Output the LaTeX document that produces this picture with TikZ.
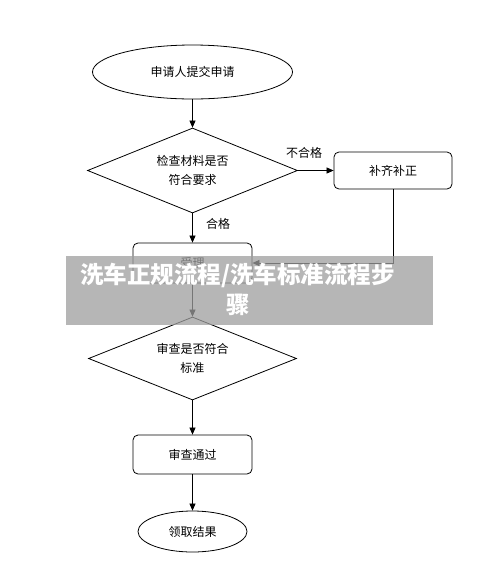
\documentclass[tikz,border=0pt]{standalone}
\usepackage{fontspec}
\setmainfont{Noto Sans CJK SC}
\usetikzlibrary{shapes.geometric,arrows.meta}
\begin{document}
\begin{tikzpicture}[x=1pt,y=-1pt,
  lbl/.style={font=\fontsize{12}{19}\selectfont, inner sep=0pt},
  proc/.style={lbl, draw, line width=0.8pt, rounded corners=5pt, minimum width=119pt, minimum height=39pt},
  term/.style={lbl, draw, line width=0.8pt, ellipse},
  dec/.style={lbl, draw, line width=0.8pt, diamond, aspect=2.47, align=center},
  conn/.style={line width=0.7pt, -{Triangle[length=7pt,width=6pt]}},
  banner/.style={fill=black!38, opacity=0.75},
  bantext/.style={text=white, inner sep=0pt, font=\fontsize{23.5}{26}\bfseries\selectfont}
]
\useasboundingbox (0,0) rectangle (500,582);
\fill[white] (0,0) rectangle (500,582);

\node[term, minimum width=200pt, minimum height=54pt] (e1) at (192.5,72) {申请人提交申请};
\node[dec, minimum width=210pt, minimum height=85pt] (d1) at (192.5,170.5) {检查材料是否\\符合要求};
\node[proc, minimum width=118pt, minimum height=37pt] (b1) at (393,170.5) {补齐补正};
\node[proc, minimum height=40pt] (acc) at (192.5,263) {受理};
\node[dec, minimum width=208pt, minimum height=83pt] (d2) at (192.5,358.5) {审查是否符合\\标准};
\node[proc] (pass) at (192.5,454.5) {审查通过};
\node[term, minimum width=109pt, minimum height=41pt] (e2) at (192.5,531.5) {领取结果};

\draw[conn] (e1) -- (d1);
\draw[conn] (d1.east) -- (b1.west);
\node[lbl] (ng) at (304,153) {不合格};
\draw[conn] (b1.south) |- (acc.east);
\draw[conn] (d1.south) -- (acc.north);
\node[lbl] (ok) at (218,224) {合格};
\draw[conn] (acc) -- (d2);
\draw[conn] (d2) -- (pass);
\draw[conn] (pass) -- (e2);

\fill[banner] (66,256) rectangle (433,325);
\node[bantext] (t1) at (237.5,275) {洗车正规流程/洗车标准流程步};
\node[bantext] (t2) at (238.5,305) {骤};
\end{tikzpicture}
\end{document}
